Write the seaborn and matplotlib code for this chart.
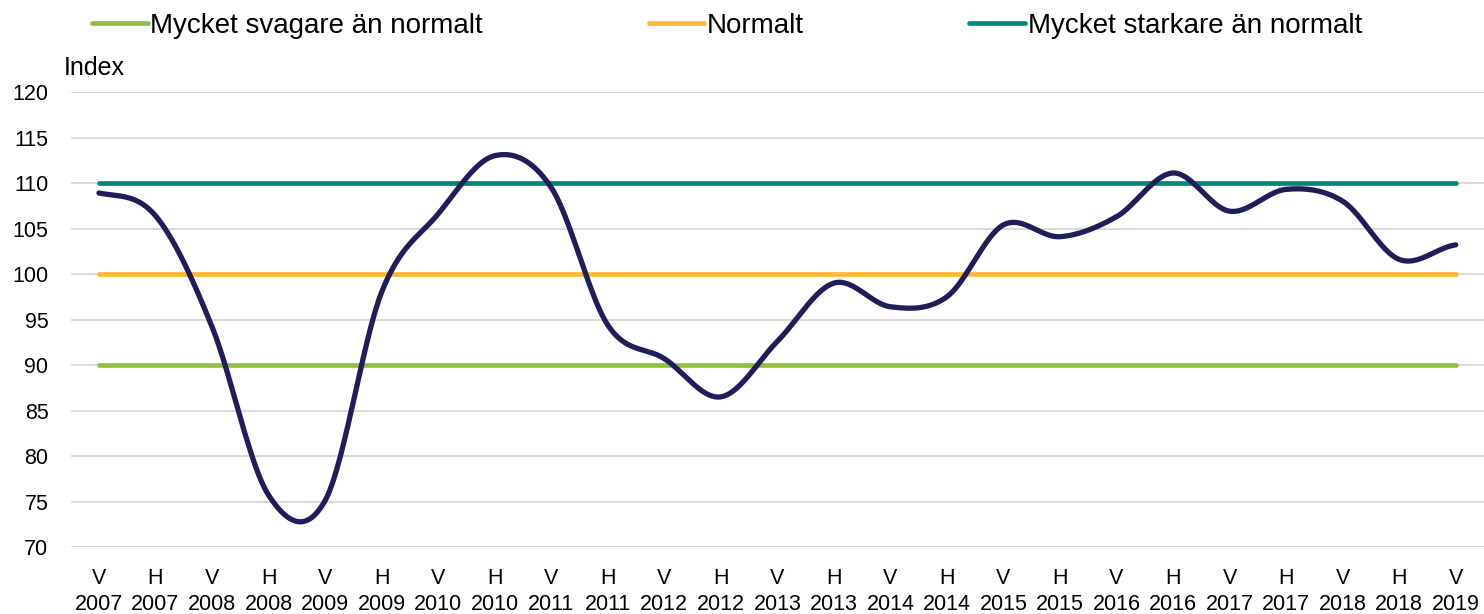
import numpy as np
import pandas as pd
import matplotlib.pyplot as plt
import seaborn as sns

# halvar (V = var, H = host) och ar for x-axeln
halvar = ['V', 'H'] * 12 + ['V']
ar = [2007, 2007, 2008, 2008, 2009, 2009, 2010, 2010, 2011, 2011, 2012, 2012,
      2013, 2013, 2014, 2014, 2015, 2015, 2016, 2016, 2017, 2017, 2018, 2018, 2019]
index_varde = [108.9, 106.4, 94.2, 75.7, 75.1, 98.0, 106.6, 113.0, 109.5, 94.4,
               90.7, 86.5, 92.6, 99.0, 96.4, 97.5, 105.4, 104.1, 106.3, 111.1,
               106.9, 109.3, 108.0, 101.6, 103.2]

# referensnivaer
niva_namn = ['Mycket svagare än normalt', 'Normalt', 'Mycket starkare än normalt']
niva = [90, 100, 110]
farger = ['#92c03e', '#fdb933', '#00897f']
linjefarg = '#201e5a'


def utjamna(y, n=40):
    # catmull-rom utjamning (som "smoothed line" i excel)
    y = np.asarray(y, float)
    p = np.concatenate([[y[0]], y, [y[-1]]])
    xs, ys = [], []
    t = np.linspace(0, 1, n, endpoint=False)
    for i in range(len(y) - 1):
        m0 = (p[i + 2] - p[i]) / 2
        m1 = (p[i + 3] - p[i + 1]) / 2
        h00 = 2 * t**3 - 3 * t**2 + 1
        h10 = t**3 - 2 * t**2 + t
        h01 = -2 * t**3 + 3 * t**2
        h11 = t**3 - t**2
        xs.append(i + t)
        ys.append(h00 * y[i] + h10 * m0 + h01 * y[i + 1] + h11 * m1)
    xs.append([len(y) - 1])
    ys.append([y[-1]])
    return np.concatenate(xs), np.concatenate(ys)


sns.set_theme(style='white')
plt.rcParams['font.family'] = ['Liberation Sans', 'DejaVu Sans']

fig = plt.figure(figsize=(14.84, 6.14), dpi=100)
ax = fig.add_axes([70.7 / 1484, 1 - 547 / 614, 1 - 70.7 / 1484, (547 - 92) / 614])

n = len(index_varde)
handtag = []
for namn, v, f in zip(niva_namn, niva, farger):
    ref = pd.DataFrame({'x': [0, n - 1], 'y': [v, v]})
    sns.lineplot(data=ref, x='x', y='y', color=f, lw=3.4, ax=ax,
                 solid_capstyle='round', label=namn, legend=False)
    handtag.append(ax.lines[-1])

sx, sy = utjamna(index_varde)
kurva = pd.DataFrame({'x': sx, 'y': sy})
sns.lineplot(data=kurva, x='x', y='y', sort=False, color=linjefarg, lw=3.8,
             ax=ax, solid_capstyle='round', legend=False)

ax.set_xlim(-0.5, n - 0.5)
ax.set_ylim(70, 120)
ax.set_yticks(range(70, 121, 5))
ax.set_xticks(range(n))
ax.set_xticklabels([f'{h}\n{a}' for h, a in zip(halvar, ar)], linespacing=1.3)
ax.tick_params(axis='x', length=0, pad=15, labelsize=15.5, colors='black')
ax.tick_params(axis='y', length=0, pad=16, labelsize=15.5, colors='black')
ax.set_xlabel('')
ax.set_ylabel('')
ax.yaxis.grid(True, color='#d9d9d9', lw=1.4)
ax.set_axisbelow(True)
for s in ax.spines.values():
    s.set_visible(False)

fig.text(64 / 1484, 1 - 68 / 614, 'Index', fontsize=18, va='center', ha='left',
         color='black')

fig.legend(handtag, niva_namn, loc='center left', bbox_to_anchor=(92 / 1484, 1 - 26 / 614),
           ncol=3, frameon=False, fontsize=20, handlelength=2.0, handletextpad=0.1,
           columnspacing=5.96, borderpad=0, borderaxespad=0, labelcolor='black')

fig.savefig('out.png', dpi=100)
